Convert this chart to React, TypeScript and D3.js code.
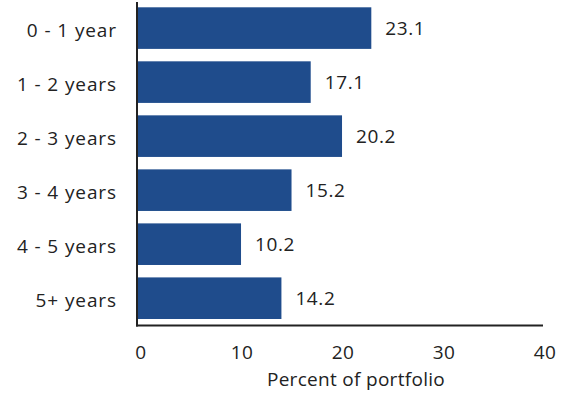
import React from "react";
import * as d3 from "d3";

const categories = ["0 - 1 year", "1 - 2 years", "2 - 3 years", "3 - 4 years", "4 - 5 years", "5+ years"];
const values = [23.1, 17.1, 20.2, 15.2, 10.2, 14.2];
const tickValues = [0, 10, 20, 30, 40];
const axisTitle = "Percent of portfolio";

const W = 569;
const H = 393;
const FONT = "'Open Sans', sans-serif";
const BAR = "#1f4c8c";
const INK = "#222";

export default function App() {
  const x = d3.scaleLinear().domain([0, 40]).range([138, 542]);
  const y = d3.scaleBand<string>().domain(categories).range([7.3, 319]).paddingInner(0.23).paddingOuter(0);
  const axisY = 325.5;
  const bw = y.bandwidth();

  return (
    <svg width={W} height={H} style={{ position: "absolute", left: 0, top: 0, background: "#fff" }} fontFamily={FONT}>
      {categories.map((c, i) => {
        const y0 = y(c)!;
        const cy = y0 + bw / 2;
        return (
          <g key={c}>
            <rect x={x(0)} y={y0} width={x(values[i]) - x(0)} height={bw} fill={BAR} />
            <text x={117} y={cy + 9} textAnchor="end" fontSize={19} fill={INK} letterSpacing={0.9}>
              {c}
            </text>
            <text x={x(values[i]) + 14} y={cy + 7} textAnchor="start" fontSize={19} fill={INK} letterSpacing={0.6}>
              {values[i].toFixed(1)}
            </text>
          </g>
        );
      })}
      <line x1={137} x2={137} y1={2} y2={axisY + 1} stroke={INK} strokeWidth={2} />
      <line x1={136} x2={x(40) + 1} y1={axisY} y2={axisY} stroke={INK} strokeWidth={2} />
      {tickValues.map((t) => (
        <text key={t} x={x(t) + 3} y={359} textAnchor="middle" fontSize={19} fill={INK} letterSpacing={0.4}>
          {t}
        </text>
      ))}
      <text x={(x(0) + x(40)) / 2 + 16} y={386} textAnchor="middle" fontSize={19} fill={INK} letterSpacing={0.3}>
        {axisTitle}
      </text>
    </svg>
  );
}
